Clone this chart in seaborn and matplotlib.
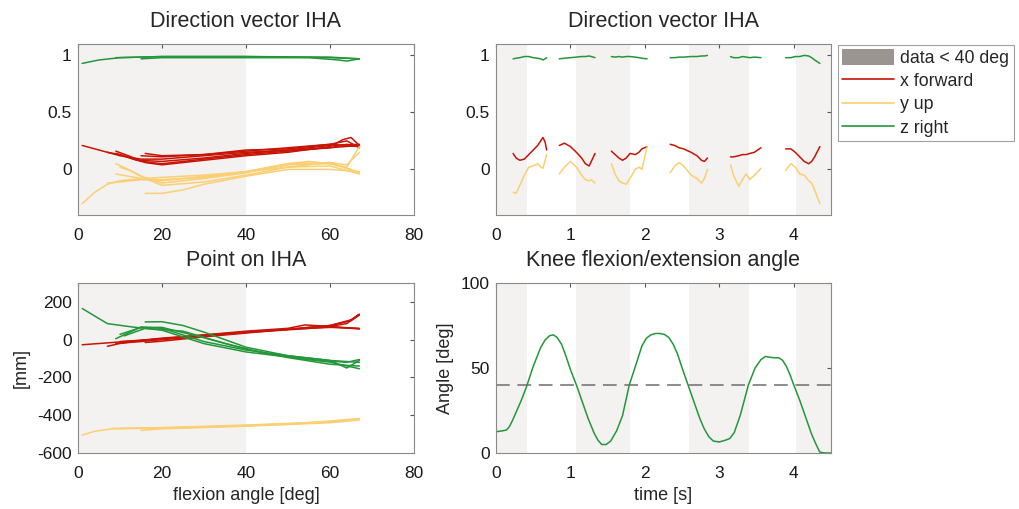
import numpy as np
import pandas as pd
import matplotlib
matplotlib.use("Agg")
import matplotlib.pyplot as plt
import seaborn as sns
from matplotlib.patches import Patch
from matplotlib.lines import Line2D

# colours
RED = "#c81405"
YELLOW = "#fbcf72"
GREEN = "#23973a"
SHADE = "#f3f2f1"
SHADE_LEG = "#9b9591"
COMPONENTS = ["x forward", "y up", "z right"]
PALETTE = {"x forward": RED, "y up": YELLOW, "z right": GREEN}

# --- Direction vector IHA vs flexion angle (one list per repetition) ---
TL_RED_ANG = [[1, 5, 10, 15, 20, 30, 40, 50, 60, 67],
              [7, 10, 15, 20, 30, 40, 50, 60, 64, 67],
              [9, 12, 16, 20, 30, 40, 50, 60, 63, 65, 67],
              [9, 14, 20, 30, 40, 50, 60, 67],
              [16, 20, 30, 40, 50, 60, 64, 67],
              [15, 20, 30, 40, 50, 60, 67]]
TL_RED_VAL = [[0.21, 0.17, 0.12, 0.09, 0.09, 0.12, 0.15, 0.17, 0.19, 0.21],
              [0.15, 0.13, 0.07, 0.05, 0.09, 0.13, 0.16, 0.19, 0.22, 0.20],
              [0.16, 0.12, 0.06, 0.04, 0.08, 0.12, 0.15, 0.20, 0.26, 0.28, 0.21],
              [0.14, 0.08, 0.07, 0.10, 0.14, 0.17, 0.21, 0.22],
              [0.14, 0.12, 0.13, 0.17, 0.18, 0.22, 0.25, 0.19],
              [0.12, 0.11, 0.13, 0.16, 0.19, 0.22, 0.20]]
TL_YEL_ANG = [[1, 4, 7, 10, 15, 20, 30, 40, 50, 60, 67],
              [7, 10, 15, 20, 30, 40, 50, 55, 60, 64, 67],
              [9, 12, 15, 20, 30, 40, 50, 60, 65, 67],
              [10, 13, 16, 20, 30, 40, 50, 60, 67],
              [16, 20, 25, 30, 40, 50, 60, 67],
              [9, 15, 20, 30, 40, 50, 60, 64, 67]]
TL_YEL_VAL = [[-0.30, -0.20, -0.13, -0.10, -0.08, -0.07, -0.05, -0.02, 0.02, 0.03, -0.04],
              [-0.12, -0.11, -0.09, -0.10, -0.06, -0.02, 0.05, 0.07, 0.05, 0.02, 0.20],
              [0.05, 0.00, -0.06, -0.12, -0.08, -0.03, 0.04, 0.05, 0.00, -0.03],
              [0.02, -0.02, -0.08, -0.14, -0.11, -0.05, 0.02, 0.06, -0.03],
              [-0.21, -0.21, -0.18, -0.13, -0.06, 0.00, 0.00, -0.02],
              [-0.04, -0.08, -0.09, -0.07, -0.02, 0.05, 0.06, 0.04, 0.15]]
TL_GRN_ANG = [[1, 5, 10, 20, 40, 60, 67],
              [15, 20, 40, 55, 62, 64, 67],
              [9, 20, 40, 60, 67]]
TL_GRN_VAL = [[0.93, 0.96, 0.98, 0.99, 0.99, 0.98, 0.97],
              [0.97, 0.98, 0.98, 0.98, 0.96, 0.95, 0.97],
              [0.98, 0.99, 0.99, 0.985, 0.97]]

# --- Point on IHA vs flexion angle [mm] ---
BL_RED_ANG = [[1, 10, 20, 30, 40, 50, 60, 67],
              [7, 10, 15, 20, 30, 40, 50, 60, 65, 67],
              [9, 15, 20, 30, 40, 50, 60, 67],
              [10, 15, 20, 30, 40, 50, 54, 60, 67],
              [16, 20, 30, 40, 50, 60, 65, 67, 64, 60]]
BL_RED_VAL = [[-27, -12, 5, 25, 40, 55, 65, 60],
              [-35, -20, -5, 5, 20, 40, 55, 75, 100, 130],
              [-20, -10, 0, 18, 38, 52, 68, 57],
              [-10, -3, 8, 25, 45, 60, 78, 70, 58],
              [-15, -8, 15, 35, 55, 75, 105, 135, 85, 70]]
BL_YEL_ANG = [[1, 4, 8, 20, 40, 60, 67],
              [8, 20, 40, 60, 67],
              [15, 20, 40, 60, 67],
              [10, 30, 50, 67]]
BL_YEL_VAL = [[-505, -485, -472, -468, -455, -435, -422],
              [-470, -466, -452, -435, -420],
              [-480, -472, -458, -440, -425],
              [-470, -462, -448, -418]]
BL_GRN_ANG = [[1, 4, 7, 13, 20, 30, 40, 53, 60, 67],
              [9, 15, 20, 30, 40, 50, 60, 64, 67],
              [16, 20, 25, 30, 40, 50, 60, 67],
              [10, 15, 20, 30, 40, 50, 60, 67],
              [11, 16, 25, 35, 45, 55, 64, 67]]
BL_GRN_VAL = [[165, 125, 85, 67, 50, -21, -65, -100, -119, -154],
              [5, 67, 60, -10, -55, -85, -110, -150, -110],
              [94, 95, 75, 40, -40, -85, -110, -120],
              [28, 65, 65, 10, -50, -95, -130, -140],
              [20, 60, 45, -20, -75, -105, -120, -105]]

# --- Direction vector IHA vs time (segments where data exists) ---
TR_TIME = [[0.23, 0.27, 0.32, 0.38, 0.44, 0.50, 0.56, 0.60, 0.63, 0.66, 0.68],
           [0.85, 0.92, 1.00, 1.08, 1.15, 1.20, 1.25, 1.28, 1.33],
           [1.55, 1.60, 1.65, 1.70, 1.75, 1.80, 1.87, 1.92, 1.96, 2.03],
           [2.34, 2.40, 2.46, 2.52, 2.62, 2.70, 2.76, 2.80, 2.84],
           [3.15, 3.19, 3.26, 3.31, 3.36, 3.41, 3.47, 3.56],
           [3.89, 3.96, 4.02, 4.08, 4.14, 4.20, 4.24, 4.28, 4.35]]
TR_RED = [[0.14, 0.10, 0.08, 0.09, 0.13, 0.17, 0.21, 0.25, 0.28, 0.24, 0.17],
          [0.21, 0.23, 0.20, 0.15, 0.10, 0.05, 0.03, 0.07, 0.14],
          [0.16, 0.13, 0.10, 0.08, 0.10, 0.14, 0.13, 0.15, 0.18, 0.20],
          [0.22, 0.21, 0.19, 0.18, 0.15, 0.12, 0.08, 0.07, 0.10],
          [0.11, 0.11, 0.12, 0.13, 0.13, 0.14, 0.15, 0.19],
          [0.18, 0.18, 0.15, 0.11, 0.07, 0.05, 0.07, 0.11, 0.20]]
TR_YEL = [[-0.20, -0.21, -0.14, -0.05, 0.02, 0.03, 0.05, 0.02, 0.01, 0.08, 0.13],
          [-0.04, 0.02, 0.07, 0.02, -0.05, -0.09, -0.10, -0.09, -0.12],
          [0.05, -0.04, -0.10, -0.12, -0.13, -0.08, 0.00, 0.02, 0.00, 0.20],
          [-0.03, 0.03, 0.06, 0.03, -0.05, -0.08, -0.12, -0.08, 0.00],
          [0.04, -0.05, -0.15, -0.09, -0.04, -0.09, -0.05, 0.01],
          [-0.01, 0.05, 0.02, -0.04, -0.05, -0.10, -0.12, -0.18, -0.30]]
TR_GRN = [[0.97, 0.975, 0.98, 0.99, 0.99, 0.98, 0.975, 0.97, 0.96, 0.97, 0.98],
          [0.97, 0.975, 0.98, 0.985, 0.99, 0.99, 0.995, 0.99, 0.98],
          [0.99, 0.985, 0.99, 0.985, 0.99, 0.99, 0.985, 0.98, 0.975, 0.97],
          [0.98, 0.98, 0.985, 0.985, 0.99, 0.99, 0.995, 0.995, 1.0],
          [0.99, 0.98, 0.98, 0.99, 0.985, 0.98, 0.985, 0.98],
          [0.98, 0.98, 0.99, 0.99, 1.0, 0.995, 0.98, 0.96, 0.93]]

# --- Knee flexion/extension angle ---
KNEE_T = [0.0, 0.08, 0.14, 0.18, 0.22, 0.27, 0.34, 0.41, 0.5, 0.6, 0.66, 0.72, 0.77,
          0.82, 0.88, 0.94, 1.0, 1.08, 1.16, 1.24, 1.32, 1.37, 1.42, 1.48, 1.54,
          1.62, 1.7, 1.79, 1.88, 1.96, 2.02, 2.08, 2.14, 2.2, 2.26, 2.32, 2.38,
          2.44, 2.5, 2.58, 2.66, 2.74, 2.8, 2.86, 2.92, 3.0, 3.08, 3.14, 3.2,
          3.28, 3.39, 3.48, 3.56, 3.62, 3.68, 3.74, 3.8, 3.85, 3.9, 3.95, 4.0,
          4.08, 4.16, 4.24, 4.3, 4.35, 4.42, 4.5]
KNEE_ANG = [12.5, 13, 13.5, 15.5, 19, 24, 31, 39, 51, 62, 66.5, 69, 69.5,
            68, 64, 57, 49, 40, 30, 20, 11.5, 7.5, 5, 5, 7,
            13, 22, 40, 52, 63, 67.5, 69.5, 70.3, 70.3, 69.8, 68, 64,
            58, 50, 40, 30, 20, 14, 9.5, 7, 6.5, 7.5, 8.5, 12,
            22, 40, 50, 55, 56.8, 56.3, 56, 56, 54.5, 51, 46, 40,
            31, 21, 11, 5, 0.5, 0, 0]
THRESHOLD = 40
TIME_SHADE = [(0.0, 0.42), (1.08, 1.80), (2.59, 3.40), (4.03, 4.5)]

TICK_SIZE = 12.5
LABEL_SIZE = 13
TITLE_SIZE = 15.5
LW = 1.1


def curves_frame(parts):
    rows = []
    for comp, xs_list, ys_list in parts:
        for rep, (xs, ys) in enumerate(zip(xs_list, ys_list)):
            for x, y in zip(xs, ys):
                rows.append({"x": x, "y": y, "comp": comp, "rep": f"{comp}-{rep}"})
    return pd.DataFrame(rows)


def style_axes(ax):
    for s in ax.spines.values():
        s.set_visible(True)
        s.set_color("#8a8a8a")
        s.set_linewidth(0.8)
    ax.tick_params(direction="in", length=3, width=0.8, color="#555555",
                   top=True, right=True, labelsize=TICK_SIZE, labelcolor="#1a1a1a")
    ax.tick_params(axis="x", pad=9.5)
    ax.tick_params(axis="y", pad=4.5)
    ax.grid(False)


sns.set_style("white")
plt.rcParams["font.family"] = ["Liberation Sans", "DejaVu Sans"]
plt.rcParams["axes.unicode_minus"] = False

fig = plt.figure(figsize=(10.2, 5.09), dpi=100)
ax_tl = fig.add_axes([78 / 1020, 1 - 215 / 509, 336 / 1020, 171 / 509])
ax_tr = fig.add_axes([496 / 1020, 1 - 215 / 509, 335 / 1020, 171 / 509])
ax_bl = fig.add_axes([78 / 1020, 1 - 453 / 509, 336 / 1020, 170 / 509])
ax_br = fig.add_axes([496 / 1020, 1 - 453 / 509, 335 / 1020, 170 / 509])

# top left
tl = curves_frame([("x forward", TL_RED_ANG, TL_RED_VAL),
                   ("y up", TL_YEL_ANG, TL_YEL_VAL),
                   ("z right", TL_GRN_ANG, TL_GRN_VAL)])
ax_tl.axvspan(0, THRESHOLD, color=SHADE, lw=0, zorder=0)
sns.lineplot(data=tl, x="x", y="y", hue="comp", units="rep", estimator=None,
             sort=False, palette=PALETTE, hue_order=COMPONENTS, lw=LW,
             legend=False, ax=ax_tl)
ax_tl.set_xlim(0, 80)
ax_tl.set_ylim(-0.4, 1.1)
ax_tl.set_xticks([0, 20, 40, 60, 80])
ax_tl.set_yticks([0, 0.5, 1])
ax_tl.set_yticklabels(["0", "0.5", "1"])
ax_tl.set_xlabel("")
ax_tl.set_ylabel("")
ax_tl.set_title("Direction vector IHA", fontsize=TITLE_SIZE, pad=12)

# top right
tr = curves_frame([("x forward", TR_TIME, TR_RED),
                   ("y up", TR_TIME, TR_YEL),
                   ("z right", TR_TIME, TR_GRN)])
for a, b in TIME_SHADE:
    ax_tr.axvspan(a, b, color=SHADE, lw=0, zorder=0)
sns.lineplot(data=tr, x="x", y="y", hue="comp", units="rep", estimator=None,
             sort=False, palette=PALETTE, hue_order=COMPONENTS, lw=LW,
             legend=False, ax=ax_tr)
ax_tr.set_xlim(0, 4.5)
ax_tr.set_ylim(-0.4, 1.1)
ax_tr.set_xticks([0, 1, 2, 3, 4])
ax_tr.set_yticks([0, 0.5, 1])
ax_tr.set_yticklabels(["0", "0.5", "1"])
ax_tr.set_xlabel("")
ax_tr.set_ylabel("")
ax_tr.set_title("Direction vector IHA", fontsize=TITLE_SIZE, pad=12)

# bottom left
bl = curves_frame([("x forward", BL_RED_ANG, BL_RED_VAL),
                   ("y up", BL_YEL_ANG, BL_YEL_VAL),
                   ("z right", BL_GRN_ANG, BL_GRN_VAL)])
ax_bl.axvspan(0, THRESHOLD, color=SHADE, lw=0, zorder=0)
sns.lineplot(data=bl, x="x", y="y", hue="comp", units="rep", estimator=None,
             sort=False, palette=PALETTE, hue_order=COMPONENTS, lw=LW,
             legend=False, ax=ax_bl)
ax_bl.set_xlim(0, 80)
ax_bl.set_ylim(-600, 300)
ax_bl.set_xticks([0, 20, 40, 60, 80])
ax_bl.set_yticks([-600, -400, -200, 0, 200])
ax_bl.set_xlabel("flexion angle [deg]", fontsize=LABEL_SIZE, labelpad=4)
ax_bl.set_ylabel("[mm]", fontsize=LABEL_SIZE, labelpad=5)
ax_bl.set_title("Point on IHA", fontsize=TITLE_SIZE, pad=12)

# bottom right
knee = pd.DataFrame({"t": KNEE_T, "angle": KNEE_ANG})
for a, b in TIME_SHADE:
    ax_br.axvspan(a, b, color=SHADE, lw=0, zorder=0)
sns.lineplot(data=knee, x="t", y="angle", color=GREEN, lw=LW, ax=ax_br)
ax_br.axhline(THRESHOLD, color="#6e6e6e", lw=1.1, dashes=(9, 5))
ax_br.set_xlim(0, 4.5)
ax_br.set_ylim(0, 100)
ax_br.set_xticks([0, 1, 2, 3, 4])
ax_br.set_yticks([0, 50, 100])
ax_br.set_xlabel("time [s]", fontsize=LABEL_SIZE, labelpad=4)
ax_br.set_ylabel("Angle [deg]", fontsize=LABEL_SIZE, labelpad=5)
ax_br.set_title("Knee flexion/extension angle", fontsize=TITLE_SIZE, pad=12)

for ax in (ax_tl, ax_tr, ax_bl, ax_br):
    style_axes(ax)

handles = [Patch(facecolor=SHADE_LEG, edgecolor="none", label="data < 40 deg"),
           Line2D([], [], color=RED, lw=1.2, label="x forward"),
           Line2D([], [], color=YELLOW, lw=1.2, label="y up"),
           Line2D([], [], color=GREEN, lw=1.2, label="z right")]
leg = fig.legend(handles=handles, loc="upper left",
                 bbox_to_anchor=(838 / 1020, 1 - 45 / 509), borderaxespad=0,
                 fancybox=False, frameon=True, fontsize=12.8, handlelength=2.9,
                 handleheight=0.95, handletextpad=0.35, labelspacing=0.3,
                 borderpad=0.25)
leg.get_frame().set_edgecolor("#8a8a8a")
leg.get_frame().set_linewidth(0.8)

fig.savefig("out.png", dpi=100)
